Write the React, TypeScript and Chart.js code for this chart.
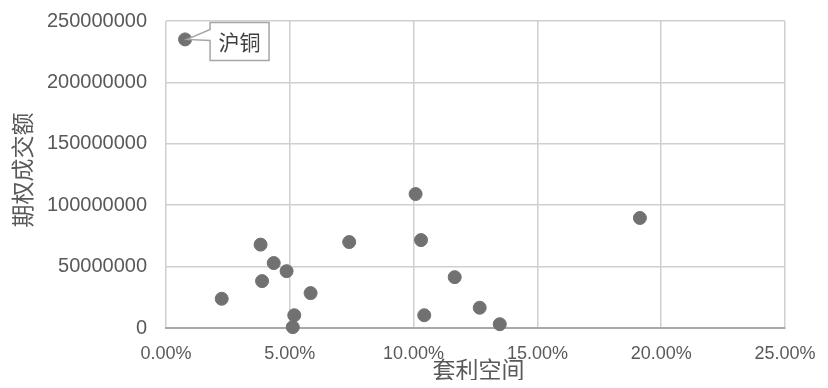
import React, { useEffect, useRef } from "react";
import { Chart, registerables } from "chart.js";

Chart.register(...registerables);

// Data
const arbitrageSpace = [0.0077, 0.0225, 0.0382, 0.0435, 0.0487, 0.0388, 0.0584, 0.0518, 0.0512, 0.074, 0.1008, 0.103, 0.1043, 0.1166, 0.1267, 0.1348, 0.1914];
const optionVolume = [235000000, 23800000, 67900000, 52900000, 46300000, 38200000, 28400000, 10400000, 700000, 70000000, 109100000, 71600000, 10400000, 41400000, 16500000, 3100000, 89600000];
const pointLabels = ["沪铜", "", "", "", "", "", "", "", "", "", "", "", "", "", "", "", ""];
const xTickValues = [0, 0.05, 0.1, 0.15, 0.2, 0.25];
const xTickLabels = ["0.00%", "5.00%", "10.00%", "15.00%", "20.00%", "25.00%"];
const yTickValues = [0, 50000000, 100000000, 150000000, 200000000, 250000000];
const yTickLabels = ["0", "50000000", "100000000", "150000000", "200000000", "250000000"];
const xTitle = "套利空间";
const yTitle = "期权成交额";

const TEXT_COLOR = "#595959";
const CJK = '"Noto Sans CJK SC", "Noto Sans", sans-serif';

const titlePlugin = {
  id: "axisTitles",
  afterDraw(chart: any) {
    const ctx = chart.ctx;
    const ca = chart.chartArea;
    ctx.save();
    ctx.fillStyle = TEXT_COLOR;
    ctx.font = `23px ${CJK}`;
    ctx.textAlign = "center";
    ctx.textBaseline = "middle";
    ctx.fillText(xTitle, (ca.left + ca.right) / 2 + 3, ca.bottom + 41);
    ctx.translate(14, ca.top + 149);
    ctx.rotate(-Math.PI / 2);
    ctx.fillText(yTitle, 0, 0);
    ctx.restore();
  },
};

const calloutPlugin = {
  id: "callout",
  afterDatasetsDraw(chart: any) {
    const ctx = chart.ctx;
    const meta = chart.getDatasetMeta(0);
    ctx.save();
    meta.data.forEach((pt: any, i: number) => {
      const text = pointLabels[i];
      if (!text) return;
      const px = pt.x;
      const py = pt.y;
      const left = px + 25;
      const top = py - 17;
      const w = 59;
      const h = 38;
      ctx.beginPath();
      ctx.moveTo(left, top);
      ctx.lineTo(left + w, top);
      ctx.lineTo(left + w, top + h);
      ctx.lineTo(left, top + h);
      ctx.lineTo(left, py + 1);
      ctx.lineTo(px + 2, py);
      ctx.lineTo(left, py - 10);
      ctx.closePath();
      ctx.fillStyle = "#ffffff";
      ctx.fill();
      ctx.strokeStyle = "#a6a6a6";
      ctx.lineWidth = 1.5;
      ctx.stroke();
      ctx.fillStyle = "#404040";
      ctx.font = `21px ${CJK}`;
      ctx.textAlign = "center";
      ctx.textBaseline = "middle";
      ctx.fillText(text, left + w / 2, top + h / 2 + 1);
    });
    ctx.restore();
  },
};

export default function App() {
  const ref = useRef<HTMLCanvasElement | null>(null);
  useEffect(() => {
    if (!ref.current) return;
    const chart = new Chart(ref.current, {
      type: "scatter",
      data: {
        datasets: [
          {
            data: arbitrageSpace.map((x, i) => ({ x, y: optionVolume[i] })),
            backgroundColor: "#717171",
            borderColor: "#717171",
            pointRadius: 6.5,
            pointHoverRadius: 6.5,
            clip: false as any,
          },
        ],
      },
      options: {
        responsive: false,
        animation: false,
        layout: { padding: { top: 13, right: 35, left: 0, bottom: 0 } },
        plugins: { legend: { display: false }, tooltip: { enabled: false } },
        scales: {
          x: {
            type: "linear",
            min: 0,
            max: 0.25,
            afterFit(scale: any) {
              scale.height = 52;
              scale.paddingLeft = 0;
              scale.paddingRight = 0;
            },
            afterBuildTicks(scale: any) {
              scale.ticks = xTickValues.map((v) => ({ value: v }));
            },
            ticks: {
              padding: 15,
              color: TEXT_COLOR,
              font: { family: '"Liberation Sans Narrow", "Liberation Sans", Arial, sans-serif', size: 18 },
              maxRotation: 0,
              callback: (v: any) => {
                const idx = xTickValues.findIndex((t) => Math.abs(t - v) < 1e-9);
                return idx >= 0 ? xTickLabels[idx] : "";
              },
            },
            grid: {
              color: "#d0d0d0",
              lineWidth: 1.5,
              drawTicks: false,
            },
            border: { display: true, color: "#a9a9a9", width: 2 },
          },
          y: {
            type: "linear",
            min: 0,
            max: 250000000,
            afterFit(scale: any) {
              scale.width = 158;
              scale.paddingTop = 0;
              scale.paddingBottom = 0;
            },
            afterBuildTicks(scale: any) {
              scale.ticks = yTickValues.map((v) => ({ value: v }));
            },
            ticks: {
              padding: 19,
              color: TEXT_COLOR,
              font: { family: '"Liberation Sans", Arial, sans-serif', size: 20 },
              callback: (v: any) => {
                const idx = yTickValues.findIndex((t) => t === v);
                return idx >= 0 ? yTickLabels[idx] : "";
              },
            },
            grid: {
              color: "#d0d0d0",
              lineWidth: 1.5,
              drawTicks: false,
            },
            border: { display: false },
          },
        },
      },
      plugins: [titlePlugin, calloutPlugin],
    });
    return () => chart.destroy();
  }, []);
  return <canvas ref={ref} width={812} height={372} style={{ display: "block" }} />;
}
